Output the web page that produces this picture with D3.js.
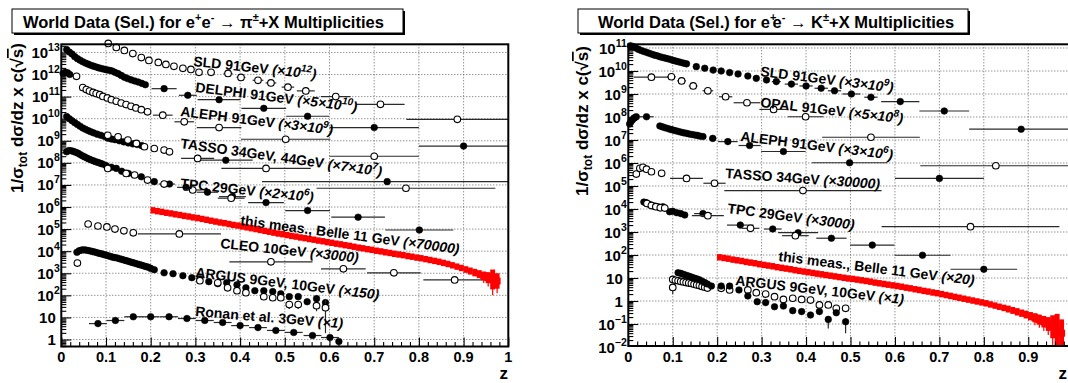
<!DOCTYPE html>
<html><head><meta charset="utf-8">
<script src="https://cdn.jsdelivr.net/npm/d3@7/dist/d3.min.js"></script>
<style>
html,body{margin:0;padding:0;background:#fff;}
svg{display:block;}
text{font-family:"Liberation Sans",Arial,Helvetica,sans-serif;font-weight:bold;fill:#000;}
</style></head><body>
<svg id="chart" width="1068" height="383"></svg>
<script>
// ================= DATA =================
const xTickValues = [0,0.1,0.2,0.3,0.4,0.5,0.6,0.7,0.8,0.9,1];
const xTickLabels = ["0","0.1","0.2","0.3","0.4","0.5","0.6","0.7","0.8","0.9","1"];
const piYTickExps = [0,1,2,3,4,5,6,7,8,9,10,11,12,13];
const kYTickExps  = [-2,-1,0,1,2,3,4,5,6,7,8,9,10,11];

// ---- pi panel (values are log10 of the plotted quantity) ----
const piSLD_z  = [0.105,0.123,0.141,0.160,0.179,0.196,0.217,0.234,0.252,0.272,0.290,0.308,0.335,0.373,0.402,0.440,0.469,0.507,0.547,0.614,0.714,0.886];
const piSLD_ly = [13.41,13.23,13.09,12.95,12.77,12.64,12.55,12.46,12.37,12.28,12.23,12.10,12.10,12.05,11.87,11.74,11.62,11.43,11.26,11.00,10.65,9.97];
const piSLD_xe = [0,0,0,0,0,0,0,0,0,0,0,0,0.008,0.010,0.010,0.012,0.012,0.014,0.020,0.033,0.054,0.114];

const piA_z  = [0.012,0.018,0.024,0.030,0.036,0.042,0.048,0.054,0.060,0.066,0.072,0.078,0.084,0.090,0.096,0.102,0.108,0.114,0.120,0.127,0.134,0.141,0.148,0.156,0.164,0.172,0.180,0.188,0.230,0.283,0.353,0.453,0.551,0.700,0.900];
const piA_ly = [13.13,13.02,12.93,12.81,12.72,12.65,12.58,12.52,12.47,12.42,12.38,12.34,12.30,12.27,12.24,12.21,12.19,12.16,12.10,12.04,11.96,11.88,11.82,11.76,11.71,11.66,11.60,11.54,11.36,11.06,10.86,10.47,10.11,9.60,8.76];
const piA_xe = [0,0,0,0,0,0,0,0,0,0,0,0,0,0,0,0,0,0,0,0,0,0,0,0,0,0,0,0,0.028,0.020,0.048,0.050,0.048,0.100,0.100];

const piLow_z  = [0.004,0.009,0.014,0.019];
const piLow_ly = [12.05,12.10,12.08,12.00];
const piLowO_z  = [0.034];
const piLowO_ly = [11.92];

const piDELPHI_z  = [0.048,0.056,0.063,0.071,0.078,0.086,0.093,0.103,0.112,0.123,0.134,0.145,0.156,0.167,0.179,0.193,0.227,0.275,0.353,0.502,0.700];
const piDELPHI_ly = [11.41,11.32,11.25,11.19,11.14,11.09,11.01,10.94,10.86,10.79,10.71,10.64,10.56,10.49,10.41,10.31,10.16,9.86,9.60,9.07,8.30];
const piDELPHI_xe = [0,0,0,0,0,0,0,0,0,0,0,0,0,0,0,0,0.022,0.022,0.050,0.100,0.100];

const piALEPH_z  = [0.012,0.018,0.024,0.030,0.036,0.042,0.048,0.054,0.060,0.066,0.072,0.080,0.088,0.096,0.104,0.112,0.120,0.130,0.140,0.150,0.160,0.170,0.180,0.368,0.729];
const piALEPH_ly = [10.10,10.00,9.91,9.82,9.74,9.66,9.58,9.52,9.46,9.41,9.36,9.30,9.25,9.20,9.12,9.08,9.05,9.00,8.95,8.90,8.86,8.83,8.78,8.12,7.15];
const piALEPH_xe = [0,0,0,0,0,0,0,0,0,0,0,0,0,0,0,0,0,0,0,0,0,0,0,0.060,0.280];

const piTASSO_z  = [0.104,0.127,0.149,0.168,0.186,0.208,0.230,0.242,0.305,0.458,0.771];
const piTASSO_ly = [9.25,9.18,9.03,8.88,8.73,8.65,8.58,8.50,8.20,7.75,6.85];
const piTASSO_xe = [0,0,0,0,0,0,0,0,0.037,0.100,0.200];

const piTPC_z  = [0.012,0.017,0.022,0.027,0.032,0.037,0.042,0.047,0.052,0.057,0.062,0.067,0.072,0.077,0.082,0.087,0.092,0.100,0.112,0.123,0.135,0.150,0.179,0.208,0.242,0.279,0.327,0.383,0.458,0.551,0.664,0.801];
const piTPC_ly = [8.50,8.56,8.55,8.52,8.48,8.44,8.38,8.32,8.27,8.22,8.17,8.13,8.09,8.05,8.02,7.98,7.95,7.88,7.80,7.75,7.62,7.52,7.37,7.15,7.04,6.89,6.67,6.47,6.20,5.84,5.54,4.96];
const piTPC_xe = [0,0,0,0,0,0,0,0,0,0,0,0,0,0,0,0,0,0,0,0,0,0,0,0,0.012,0.020,0.024,0.030,0.040,0.050,0.060,0.076];

const piTPCo_z  = [0.104,0.145,0.164,0.193,0.230,0.294,0.380];
const piTPCo_ly = [7.75,7.52,7.45,7.22,7.04,6.77,6.40];
const piTPCo_xe = [0,0,0,0,0.012,0.020,0.030];

const piCLEO_z  = [0.060,0.082,0.102,0.120,0.140,0.161,0.264,0.469,0.631,0.744,0.880];
const piCLEO_ly = [5.23,5.14,5.10,5.00,4.92,4.83,4.78,3.52,3.20,3.02,2.70];
const piCLEO_xe = [0,0,0,0,0,0,0.093,0.093,0.050,0.060,0.070];

const piARGUS_z  = [0.035,0.040,0.045,0.050,0.055,0.060,0.065,0.070,0.075,0.080,0.085,0.090,0.095,0.100,0.105,0.110,0.115,0.120,0.125,0.130,0.135,0.140,0.145,0.150,0.155,0.160,0.165,0.170,0.175,0.180,0.185,0.190,0.195,0.200,0.208,0.230,0.250,0.272,0.292,0.310,0.330,0.350,0.370,0.393,0.413,0.433,0.453,0.473,0.491,0.510,0.530,0.550,0.571,0.591];
const piARGUS_ly = [3.95,4.02,4.05,4.06,4.05,4.03,4.01,3.98,3.96,3.93,3.90,3.88,3.85,3.82,3.79,3.76,3.73,3.71,3.69,3.66,3.63,3.60,3.57,3.54,3.51,3.48,3.45,3.42,3.39,3.36,3.33,3.30,3.27,3.22,3.16,3.02,2.98,2.89,2.80,2.75,2.62,2.53,2.57,2.48,2.34,2.21,2.21,2.17,2.07,1.94,1.94,1.71,1.85,1.67];

const piARGUSo_z   = [0.036,0.310,0.350,0.372,0.393,0.413,0.453,0.473,0.491,0.510,0.530,0.571,0.591];
const piARGUSo_ly  = [3.46,2.66,2.57,2.34,2.21,2.12,1.94,1.89,1.89,1.58,1.58,1.53,1.44];
const piARGUSo_yel = [0,0,0,0,0,0,0,0,0,0.20,0.20,0.25,1.15];

const piRonan_z  = [0.082,0.121,0.161,0.200,0.241,0.281,0.321,0.361,0.400,0.440,0.480,0.520,0.562,0.601,0.621];
const piRonan_ly = [0.72,0.86,1.03,1.03,1.03,0.95,0.86,0.77,0.63,0.54,0.41,0.32,0.18,0.09,-0.09];
const piRonan_xe = [0.02,0.02,0.02,0.02,0.02,0.02,0.02,0.02,0.02,0.02,0.02,0.02,0.02,0.02,0];

// Belle (this measurement), 0.01 bins
const belleZ = [0.205,0.215,0.225,0.235,0.245,0.255,0.265,0.275,0.285,0.295,
 0.305,0.315,0.325,0.335,0.345,0.355,0.365,0.375,0.385,0.395,
 0.405,0.415,0.425,0.435,0.445,0.455,0.465,0.475,0.485,0.495,
 0.505,0.515,0.525,0.535,0.545,0.555,0.565,0.575,0.585,0.595,
 0.605,0.615,0.625,0.635,0.645,0.655,0.665,0.675,0.685,0.695,
 0.705,0.715,0.725,0.735,0.745,0.755,0.765,0.775,0.785,0.795,
 0.805,0.815,0.825,0.835,0.845,0.855,0.865,0.875,0.885,0.895,
 0.905,0.915,0.925,0.935,0.945,0.955,0.965,0.975];
const piBelle_ly = [5.85,5.81,5.78,5.74,5.71,5.67,5.64,5.60,5.57,5.53,
 5.50,5.46,5.42,5.38,5.34,5.30,5.27,5.23,5.19,5.16,
 5.12,5.08,5.04,5.00,4.96,4.92,4.88,4.84,4.80,4.77,
 4.73,4.69,4.66,4.62,4.59,4.55,4.52,4.48,4.45,4.41,
 4.38,4.34,4.31,4.27,4.24,4.20,4.16,4.13,4.09,4.06,
 4.02,3.99,3.95,3.92,3.88,3.85,3.82,3.78,3.75,3.71,
 3.68,3.64,3.60,3.56,3.52,3.47,3.42,3.36,3.30,3.24,
 3.17,3.10,3.03,2.96,2.88,2.80,2.72,2.65];
const piBelle_err = [0.14,0.14,0.14,0.14,0.14,0.14,0.14,0.14,0.14,0.14,
 0.14,0.14,0.14,0.14,0.14,0.14,0.14,0.14,0.14,0.14,
 0.14,0.14,0.14,0.14,0.14,0.14,0.14,0.14,0.14,0.14,
 0.14,0.14,0.14,0.14,0.14,0.14,0.14,0.14,0.14,0.14,
 0.14,0.14,0.14,0.14,0.14,0.14,0.14,0.14,0.14,0.14,
 0.14,0.14,0.14,0.14,0.14,0.14,0.14,0.14,0.14,0.14,
 0.14,0.14,0.14,0.14,0.14,0.14,0.14,0.14,0.14,0.14,
 0.15,0.16,0.17,0.18,0.20,0.25,0.45,0.35];

// ---- K panel ----
const kSLD_z  = [0.005,0.011,0.017,0.023,0.029,0.035,0.041,0.047,0.053,0.059,0.065,0.071,0.077,0.083,0.089,0.095,0.101,0.107,0.113,0.119,0.125,0.131,0.153,0.172,0.191,0.209,0.228,0.247,0.269,0.288,0.311,0.333,0.367,0.400,0.434,0.464,0.502,0.546,0.612,0.711,0.884];
const kSLD_ly = [11.10,11.06,11.00,10.94,10.89,10.85,10.81,10.77,10.73,10.69,10.66,10.62,10.59,10.56,10.53,10.50,10.46,10.43,10.40,10.37,10.34,10.31,10.19,10.12,10.04,10.00,9.93,9.87,9.78,9.68,9.61,9.54,9.43,9.35,9.25,9.14,9.00,8.86,8.67,8.26,7.47];
const kSLD_xe = [0,0,0,0,0,0,0,0,0,0,0,0,0,0,0,0,0,0,0,0,0,0,0,0,0,0,0,0,0,0,0,0.010,0.015,0.015,0.015,0.015,0.020,0.015,0.043,0.056,0.117];

const kOPAL_z  = [0.052,0.097,0.120,0.146,0.179,0.219,0.267,0.327,0.399,0.546,0.827];
const kOPAL_ly = [9.73,9.75,9.57,9.35,9.14,8.88,8.62,8.33,8.01,7.12,5.88];
const kOPAL_xe = [0.040,0.010,0.010,0.010,0.012,0.015,0.030,0.032,0.040,0.110,0.170];

const kALEPH_z  = [0.003,0.006,0.009,0.012,0.015,0.018,0.041,0.071,0.077,0.083,0.089,0.095,0.101,0.107,0.113,0.119,0.125,0.131,0.137,0.143,0.149,0.155,0.161,0.168,0.190,0.224,0.273,0.349,0.498,0.700];
const kALEPH_ly = [7.70,7.80,7.87,7.94,7.98,8.01,8.01,7.61,7.57,7.53,7.50,7.46,7.43,7.40,7.37,7.34,7.31,7.29,7.26,7.24,7.22,7.20,7.17,7.15,7.07,6.93,6.76,6.50,6.01,5.33];
const kALEPH_xe = [0,0,0,0,0,0,0.016,0,0,0,0,0,0,0,0,0,0,0,0,0,0,0,0,0,0.008,0.022,0.025,0.050,0.085,0.100];

const kTASSO_z  = [0.018,0.026,0.033,0.041,0.052,0.075,0.131,0.194,0.393];
const kTASSO_ly = [5.52,5.77,5.81,5.73,5.62,5.55,5.33,5.12,4.80];
const kTASSO_xe = [0,0,0,0,0,0,0.037,0.025,0.177];

const kTPC_z  = [0.035,0.040,0.045,0.050,0.055,0.060,0.065,0.070,0.078,0.093,0.100,0.109,0.118,0.127,0.168,0.252,0.325,0.382,0.457,0.549,0.662,0.800];
const kTPC_ly = [4.30,4.28,4.22,4.18,4.14,4.12,4.10,4.08,4.10,3.88,3.90,3.84,3.80,3.74,3.80,3.30,3.13,2.97,2.73,2.43,1.99,1.38];
const kTPC_xe = [0,0,0,0,0,0,0,0,0,0,0,0,0,0,0.020,0.030,0.020,0.045,0.034,0.050,0.063,0.075];

const kTPCo_z  = [0.042,0.052,0.062,0.072,0.082,0.179,0.275,0.376,0.770];
const kTPCo_ly = [4.24,4.15,4.10,4.05,4.04,3.71,3.16,2.84,3.23];
const kTPCo_xe = [0,0,0,0,0,0.036,0.020,0.030,0.200];

const kARGUS_z   = [0.112,0.118,0.124,0.130,0.136,0.142,0.148,0.154,0.160,0.166,0.172,0.178,0.187,0.209,0.228,0.249,0.269,0.290,0.309,0.329,0.349,0.370,0.390,0.410,0.430,0.450,0.468,0.489];
const kARGUS_ly  = [1.23,1.20,1.16,1.12,1.08,1.04,1.00,0.96,0.92,0.86,0.80,0.74,0.65,0.65,0.65,0.48,0.22,-0.03,-0.07,-0.25,-0.22,-0.42,-0.46,-0.61,-0.46,-0.80,-0.51,-0.90];
const kARGUS_yel = [0,0,0,0,0,0,0,0,0,0,0,0,0,0,0,0,0.05,0.06,0.06,0.08,0.08,0.1,0.1,0.12,0.12,0.40,0.10,0.50];

const kARGUSo_z   = [0.100,0.100,0.106,0.112,0.118,0.124,0.130,0.136,0.142,0.148,0.154,0.160,0.166,0.172,0.178,0.209,0.228,0.269,0.288,0.309,0.329,0.349,0.370,0.390,0.410,0.430,0.450,0.468,0.489];
const kARGUSo_ly  = [0.59,0.94,0.90,0.88,0.85,0.83,0.80,0.78,0.76,0.73,0.70,0.67,0.63,0.60,0.56,0.55,0.48,0.48,0.36,0.30,0.19,0.07,0.12,0.07,0.04,-0.17,-0.17,-0.32,-0.32];
const kARGUSo_yel = [0.30,0,0,0,0,0,0,0,0,0,0,0,0,0,0,0,0,0,0,0,0,0,0,0,0,0,0,0,0];

const kBelle_ly = [1.90,1.87,1.84,1.80,1.77,1.74,1.70,1.67,1.64,1.60,
 1.57,1.54,1.51,1.47,1.44,1.41,1.38,1.34,1.31,1.28,
 1.25,1.22,1.19,1.16,1.13,1.10,1.07,1.04,1.01,0.98,
 0.96,0.93,0.90,0.87,0.84,0.80,0.77,0.74,0.71,0.68,
 0.65,0.62,0.58,0.55,0.51,0.48,0.44,0.41,0.37,0.34,
 0.30,0.26,0.22,0.18,0.14,0.10,0.06,0.02,-0.02,-0.06,
 -0.10,-0.15,-0.20,-0.25,-0.30,-0.35,-0.41,-0.47,-0.53,-0.59,
 -0.66,-0.73,-0.81,-0.90,-1.00,-1.12,-1.26,-1.40];
const kBelle_err = [0.14,0.14,0.14,0.14,0.14,0.14,0.14,0.14,0.14,0.14,
 0.14,0.14,0.14,0.14,0.14,0.14,0.14,0.14,0.14,0.14,
 0.14,0.14,0.14,0.14,0.14,0.14,0.14,0.14,0.14,0.14,
 0.14,0.14,0.14,0.14,0.14,0.14,0.14,0.14,0.14,0.14,
 0.14,0.14,0.14,0.14,0.14,0.14,0.14,0.14,0.14,0.14,
 0.14,0.14,0.14,0.14,0.14,0.14,0.14,0.14,0.14,0.14,
 0.14,0.14,0.14,0.14,0.14,0.15,0.15,0.16,0.16,0.17,
 0.18,0.20,0.22,0.25,0.30,0.50,0.70,0.60];

// ================= SERIES TABLES =================
const piSeries = [
  {z:piSLD_z, ly:piSLD_ly, xe:piSLD_xe, open:true},
  {z:piA_z, ly:piA_ly, xe:piA_xe, open:false},
  {z:piLow_z, ly:piLow_ly, open:false},
  {z:piLowO_z, ly:piLowO_ly, open:true},
  {z:piDELPHI_z, ly:piDELPHI_ly, xe:piDELPHI_xe, open:true},
  {z:piALEPH_z, ly:piALEPH_ly, xe:piALEPH_xe, open:false},
  {z:piTASSO_z, ly:piTASSO_ly, xe:piTASSO_xe, open:true},
  {z:piTPC_z, ly:piTPC_ly, xe:piTPC_xe, open:false},
  {z:piTPCo_z, ly:piTPCo_ly, xe:piTPCo_xe, open:true},
  {z:piCLEO_z, ly:piCLEO_ly, xe:piCLEO_xe, open:true},
  {z:piARGUS_z, ly:piARGUS_ly, open:false},
  {z:piARGUSo_z, ly:piARGUSo_ly, yel:piARGUSo_yel, open:true},
  {z:piRonan_z, ly:piRonan_ly, xe:piRonan_xe, open:false}
];
const kSeries = [
  {z:kSLD_z, ly:kSLD_ly, xe:kSLD_xe, open:false},
  {z:kOPAL_z, ly:kOPAL_ly, xe:kOPAL_xe, open:true},
  {z:kALEPH_z, ly:kALEPH_ly, xe:kALEPH_xe, open:false},
  {z:kTASSO_z, ly:kTASSO_ly, xe:kTASSO_xe, open:true},
  {z:kTPC_z, ly:kTPC_ly, xe:kTPC_xe, open:false},
  {z:kTPCo_z, ly:kTPCo_ly, xe:kTPCo_xe, open:true},
  {z:kARGUSo_z, ly:kARGUSo_ly, yel:kARGUSo_yel, open:true},
  {z:kARGUS_z, ly:kARGUS_ly, yel:kARGUS_yel, open:false}
];

// annotation texts: [string, style]  n=normal bold, i=italic, is=italic superscript
const piLabels = [
  {x:193,y:66, a:6, parts:[["SLD 91GeV ","n"],["(×10","i"],["12","is"],[")","i"]]},
  {x:195,y:92, a:7, parts:[["DELPHI 91GeV ","n"],["(×5×10","i"],["10","is"],[")","i"]]},
  {x:180,y:116,a:7, parts:[["ALEPH 91GeV ","n"],["(×3×10","i"],["9","is"],[")","i"]]},
  {x:180,y:148,a:8, parts:[["TASSO 34GeV, 44GeV ","n"],["(×7×10","i"],["7","is"],[")","i"]]},
  {x:180,y:188,a:6, parts:[["TPC 29GeV ","n"],["(×2×10","i"],["6","is"],[")","i"]]},
  {x:240,y:225,a:7.5,parts:[["this meas., Belle 11 GeV ","n"],["(×70000)","i"]]},
  {x:220,y:248,a:6, parts:[["CLEO 10GeV ","n"],["(×3000)","i"]]},
  {x:195,y:277,a:7, parts:[["ARGUS 9GeV, 10GeV ","n"],["(×150)","i"]]},
  {x:195,y:316,a:4.8,parts:[["Ronan et al. 3GeV ","n"],["(×1)","i"]]}
];
const kLabels = [
  {x:760,y:76, a:7, parts:[["SLD 91GeV ","n"],["(×3×10","i"],["9","is"],[")","i"]]},
  {x:760,y:107,a:6.5,parts:[["OPAL 91GeV ","n"],["(×5×10","i"],["8","is"],[")","i"]]},
  {x:740,y:141,a:7, parts:[["ALEPH 91GeV ","n"],["(×3×10","i"],["6","is"],[")","i"]]},
  {x:725,y:178,a:4, parts:[["TASSO 34GeV ","n"],["(×30000)","i"]]},
  {x:727,y:213,a:7.5,parts:[["TPC 29GeV ","n"],["(×3000)","i"]]},
  {x:778,y:261,a:7, parts:[["this meas., Belle 11 GeV ","n"],["(×20)","i"]]},
  {x:735,y:285,a:6.5,parts:[["ARGUS 9GeV, 10GeV ","n"],["(×1)","i"]]}
];

// ================= LAYOUT =================
const layouts = [
  {x0:61.3, x1:508.3, yTop:44.3, yBot:346.5, y1px:339.5, dec:22.08, exps:piYTickExps,
   box:[12,9,391,24], titleX:23, titleParts:[["World Data (Sel.) for e","n"],["+","s"],["e","n"],["-","s"],[" → π","n"],["±","s"],["+X Multiplicities","n"]],
   yTitleX:23, yTitleTop:43, series:piSeries, belle:{z:belleZ, ly:piBelle_ly, err:piBelle_err}, labels:piLabels, zX:508},
  {x0:628.3, x1:1072.7, yTop:44.3, yBot:346, y1px:301, dec:23.0, exps:kYTickExps,
   box:[578,9,390,24], titleX:598, titleParts:[["World Data (Sel.) for e","n"],["+","s"],["e","n2"],["-","s"],[" → K","n"],["±","s"],["+X Multiplicities","n"]],
   yTitleX:588, yTitleTop:46, series:kSeries, belle:{z:belleZ, ly:kBelle_ly, err:kBelle_err}, labels:kLabels, zX:1067}
];

const svg = d3.select("#chart");
svg.append("rect").attr("width",1068).attr("height",383).attr("fill","#fff");

function richText(t, parts, baseSize, supSize){
  let cur = 0;
  parts.forEach(([s, st])=>{
    const ts = t.append("tspan").text(s);
    let target = 0;
    if (st.includes("s")) { target = -Math.round(baseSize*0.42); ts.attr("font-size", supSize); }
    if (st.includes("i")) ts.attr("font-style","italic");
    if (st === "n2") ts.attr("dx", -4);
    if (target !== cur) { ts.attr("dy", target - cur); cur = target; }
  });
}

layouts.forEach((L, idx)=>{
  const g = svg.append("g");
  const x = d3.scaleLinear().domain([0,1]).range([L.x0, L.x1]);
  const y = d3.scaleLog().domain([1, 1e10]).range([L.y1px, L.y1px - 10*L.dec]);
  const Y = v => y(Math.pow(10, v));
  const clipId = "clip"+idx;
  g.append("clipPath").attr("id",clipId).append("rect")
    .attr("x",L.x0).attr("y",L.yTop).attr("width",L.x1-L.x0).attr("height",L.yBot-L.yTop);

  // grid
  const grid = g.append("g").attr("stroke","#555").attr("stroke-width",0.9).attr("stroke-dasharray","1,2");
  xTickValues.filter(v=>v>0 && v<1).forEach(v=>{
    grid.append("line").attr("x1",x(v)).attr("x2",x(v)).attr("y1",L.yTop).attr("y2",L.yBot);
  });
  L.exps.forEach(e=>{
    const yy = Y(e);
    if (yy > L.yTop+1 && yy < L.yBot-1)
      grid.append("line").attr("x1",L.x0).attr("x2",Math.min(L.x1,1068)).attr("y1",yy).attr("y2",yy);
  });

  // data series
  L.series.forEach(s=>{
    const sg = g.append("g");
    s.z.forEach((zv,i)=>{
      const cx = x(zv), cy = Y(s.ly[i]);
      const xe = s.xe ? s.xe[i] : 0;
      if (xe > 0) {
        sg.append("line").attr("x1",x(Math.max(0,zv-xe))).attr("x2",x(Math.min(1,zv+xe)))
          .attr("y1",cy).attr("y2",cy).attr("stroke","#2a2a2a").attr("stroke-width",1.2);
      }
      const yel = s.yel ? s.yel[i] : 0;
      if (yel > 0) {
        sg.append("line").attr("x1",cx).attr("x2",cx).attr("y1",Y(s.ly[i]+yel*0.3)).attr("y2",Math.min(L.yBot,Y(s.ly[i]-yel)))
          .attr("stroke","#2a2a2a").attr("stroke-width",1.2);
      }
    });
    s.z.forEach((zv,i)=>{
      sg.append("circle").attr("cx",x(zv)).attr("cy",Y(s.ly[i])).attr("r",3.3)
        .attr("fill", s.open ? "#fff" : "#000").attr("stroke","#000").attr("stroke-width", s.open?1.1:0.6);
    });
  });

  // Belle band
  const bg = g.append("g").attr("clip-path",`url(#${clipId})`);
  const B = L.belle;
  B.z.forEach((zv,i)=>{
    const cy = Y(B.ly[i]);
    const yTopE = Y(B.ly[i]+B.err[i]), yBotE = Y(B.ly[i]-B.err[i]);
    bg.append("rect").attr("x",x(zv-0.0055)).attr("width",x(zv+0.0055)-x(zv-0.0055))
      .attr("y",Math.min(yTopE, cy-3.2)).attr("height",Math.max(yBotE-yTopE, 6.4)).attr("fill","#ff0000");
  });
  B.z.forEach((zv,i)=>{
    if (B.err[i] > 0.19) {
      const cy = Y(B.ly[i]);
      bg.append("line").attr("x1",x(zv)).attr("x2",x(zv)).attr("y1",Y(B.ly[i]+B.err[i]*0.5)).attr("y2",Y(B.ly[i]-B.err[i]*1.6))
        .attr("stroke","#ff0000").attr("stroke-width",1.2);
      bg.append("rect").attr("x",x(zv)-3.5).attr("y",cy-3.5).attr("width",7).attr("height",7).attr("fill","#ff0000");
    }
  });

  // labels
  L.labels.forEach(lb=>{
    const t = g.append("text").attr("transform",`translate(${lb.x},${lb.y}) rotate(${lb.a})`)
      .attr("font-size",14).attr("fill","#111");
    richText(t, lb.parts, 14, 10);
  });

  // axes ticks
  const xMinor = d3.range(0.02, 1.0, 0.02).filter(v=>Math.abs(v*10-Math.round(v*10))>1e-6);
  const ax1 = g.append("g").attr("transform",`translate(0,${L.yBot})`)
    .call(d3.axisBottom(x).tickValues(xTickValues).tickSize(-9).tickFormat(""));
  const ax2 = g.append("g").attr("transform",`translate(0,${L.yBot})`)
    .call(d3.axisBottom(x).tickValues(xMinor).tickSize(-4.5).tickFormat(""));
  const majY = L.exps.map(e=>Math.pow(10,e)).filter(v=>y(v)>=L.yTop-0.5 && y(v)<=L.yBot+0.5);
  const minY = [];
  L.exps.forEach(e=>{ for (let k=2;k<=9;k++){ const v=k*Math.pow(10,e); if (y(v)>L.yTop && y(v)<L.yBot) minY.push(v);} });
  for (let k=2;k<=9;k++){ const v=k*Math.pow(10,L.exps[0]-1); if (y(v)>L.yTop && y(v)<L.yBot) minY.push(v); }
  const ay1 = g.append("g").attr("transform",`translate(${L.x0},0)`)
    .call(d3.axisLeft(y).tickValues(majY).tickSize(-10).tickFormat(""));
  const ay2 = g.append("g").attr("transform",`translate(${L.x0},0)`)
    .call(d3.axisLeft(y).tickValues(minY).tickSize(-5).tickFormat(""));
  [ax1,ax2,ay1,ay2].forEach(a=>{ a.select(".domain").remove(); a.selectAll("line").attr("stroke","#000").attr("stroke-width",1.1); });

  // frame
  g.append("rect").attr("x",L.x0).attr("y",L.yTop).attr("width",L.x1-L.x0).attr("height",L.yBot-L.yTop)
    .attr("fill","none").attr("stroke","#000").attr("stroke-width",2);

  // x tick labels (only those inside the canvas)
  xTickValues.forEach((v,i)=>{
    if (x(v) > 1060) return;
    g.append("text").attr("x",x(v)).attr("y",L.yBot+15.5).attr("text-anchor","middle")
      .attr("font-size",14.5).text(xTickLabels[i]);
  });
  // y tick labels
  L.exps.forEach(e=>{
    const yy = Y(e);
    const t = g.append("text").attr("y",yy+5.5).attr("text-anchor","end").attr("font-size",15);
    if (e===0) { t.attr("x",L.x0-5.5).text("1"); }
    else if (e===1) { t.attr("x",L.x0-5.5).text("10"); }
    else { t.attr("x",L.x0-1.5); t.append("tspan").text("10"); t.append("tspan").attr("font-size",10.5).attr("dy",-7).text(String(e).replace("-","−")); }
  });

  // axis titles
  g.append("text").attr("x",L.zX).attr("y",378.5).attr("text-anchor","end").attr("font-size",17).text("z");
  const yt = g.append("text").attr("transform",`translate(${L.yTitleX},${L.yTitleTop}) rotate(-90)`)
    .attr("text-anchor","end").attr("font-size",17);
  yt.append("tspan").text("1/σ");
  yt.append("tspan").attr("font-size",12).attr("dy",4).text("tot");
  yt.append("tspan").attr("dy",-4).text(" dσ/dz x c(√");
  yt.append("tspan").attr("text-decoration","overline").text("s");
  yt.append("tspan").text(")");

  // title box
  const [bx,by,bw,bh] = L.box;
  g.append("rect").attr("x",bx+2).attr("y",by+2).attr("width",bw).attr("height",bh).attr("fill","#000");
  g.append("rect").attr("x",bx).attr("y",by).attr("width",bw).attr("height",bh).attr("fill","#fff").attr("stroke","#000").attr("stroke-width",1);
  const tt = g.append("text").attr("x",L.titleX).attr("y",by+18.5).attr("font-size",16.5);
  richText(tt, L.titleParts, 16.5, 11);
});
</script>
</body></html>
